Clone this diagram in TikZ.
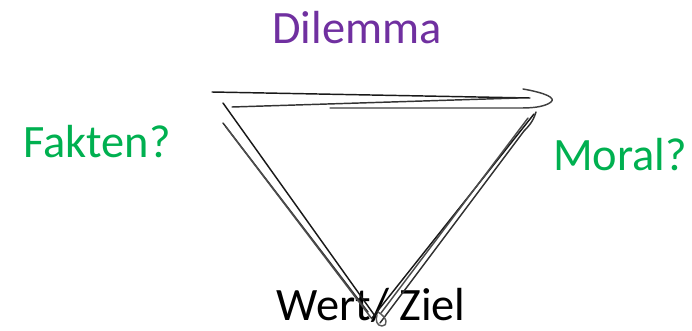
\documentclass[tikz,border=0pt]{standalone}
\usepackage{fontspec}
\setmainfont{Carlito}
\usetikzlibrary{positioning}
\definecolor{dilemma}{HTML}{7030A0}
\definecolor{frage}{HTML}{00B050}
\tikzset{
  pencil/.style={draw=black!90, line width=1.1pt, line cap=round, line join=round},
  label/.style={font=\fontsize{35}{40}\selectfont, inner sep=0pt}
}

\begin{document}
\begin{tikzpicture}[x=0.0265cm, y=-0.0265cm]
  \useasboundingbox (0,0) rectangle (692,331);
  % labels
  \node[label, dilemma] (dil) at (357,28) {Dilemma};
  \node[label, frage] (fak) at (97,142) {Fakten?};
  \node[label, frage] (mor) at (620,155) {Moral?};
  \node[label] (wert) at (371,305) {Wert/ Ziel};
  % sketched triangle, top edge
  \begin{scope}
    \draw[pencil] (212,92) -- (530,98);
    \draw[pencil, black!80] (232,107) -- (518,98);
    \draw[pencil, black!75] (523,89) .. controls (546,93) and (556,98) .. (551,102)
      .. controls (546,106) and (536,108) .. (522,108) -- (330,108);
  \end{scope}
  % left edge
  \begin{scope}
    \draw[pencil] (223,103) -- (375,316);
    \draw[pencil, black!80] (223,123) -- (368,312);
    \draw[pencil, black!70] (226,127) -- (372,319);
  \end{scope}
  % right edge
  \begin{scope}
    \draw[pencil] (534,114) -- (372,318);
    \draw[pencil, black!80] (536,112) .. controls (533,122) and (528,127) .. (524,131)
      -- (380,323);
    \draw[pencil, black!70] (528,118) -- (381,313);
    \draw[pencil, black!65] (378,312) .. controls (388,318) and (388,326) .. (382,326)
      .. controls (377,326) and (375,320) .. (377,315);
  \end{scope}
\end{tikzpicture}
\end{document}
